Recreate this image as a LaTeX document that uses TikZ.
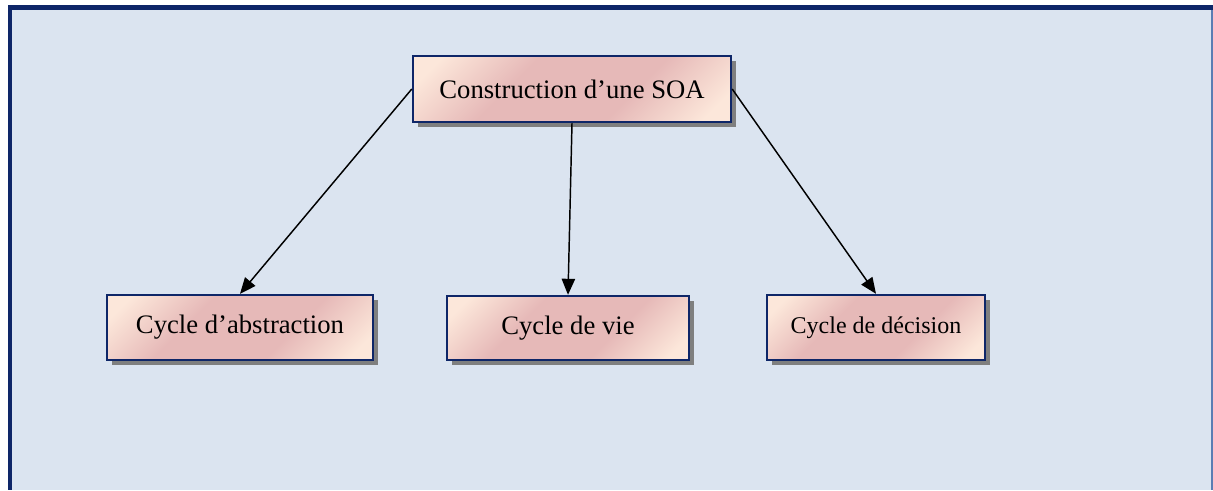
\documentclass[tikz,border=0pt]{standalone}
\usepackage{fontspec}
\setmainfont{Liberation Serif}
\usetikzlibrary{arrows.meta,shadows}
\definecolor{bgblue}{HTML}{DBE4F0}
\definecolor{navy}{HTML}{0E2668}
\definecolor{edgeblue}{HTML}{5B7DB3}
\definecolor{pinkc}{HTML}{E6B9B8}
\definecolor{lightpk}{HTML}{FCE7DA}
\definecolor{shadowgray}{HTML}{7F7F7F}
\pgfdeclarehorizontalshading{pinkband}{100bp}{color(0bp)=(lightpk); color(20bp)=(lightpk); color(38bp)=(pinkc); color(62bp)=(pinkc); color(80bp)=(lightpk); color(100bp)=(lightpk)}
\tikzset{
  box/.style={draw=navy, line width=1.8pt, shading=pinkband, shading angle=-45,
    minimum height=48.75pt, inner sep=0pt, align=center,
    drop shadow={shadow xshift=3.75pt, shadow yshift=-3.75pt, fill=shadowgray, opacity=1},
    font=\fontsize{20}{24}\selectfont},
  conn/.style={draw=black, line width=1.1pt, -{Triangle[length=12pt,width=10pt]}}
}
\begin{document}
\begin{tikzpicture}[x=0.75pt,y=-0.75pt]
\useasboundingbox (0,0) rectangle (1213,490);
\fill[white] (0,0) rectangle (1213,490);
\fill[bgblue] (10,8) rectangle (1213,490);
\fill[navy] (8,5) rectangle (1213,10);
\fill[navy] (8,5) rectangle (12,490);
\fill[edgeblue] (1211,10) rectangle (1213,490);

\node[box, minimum width=238.5pt, minimum height=49.5pt] (main) at (572,89) {Construction d’une SOA};
\node[box, minimum width=199.5pt] (abs) at (240,327.5) {Cycle d’abstraction};
\node[box, minimum width=181.5pt, minimum height=48pt] (vie) at (568,328) {Cycle de vie};
\node[box, minimum width=163.5pt, font=\fontsize{18}{22}\selectfont] (dec) at (876,327.5) {Cycle de décision};

\draw[conn] (main.west) -- (abs.north);
\draw[conn] (main.south) -- (vie.north);
\draw[conn] (main.east) -- (dec.north);
\end{tikzpicture}
\end{document}
